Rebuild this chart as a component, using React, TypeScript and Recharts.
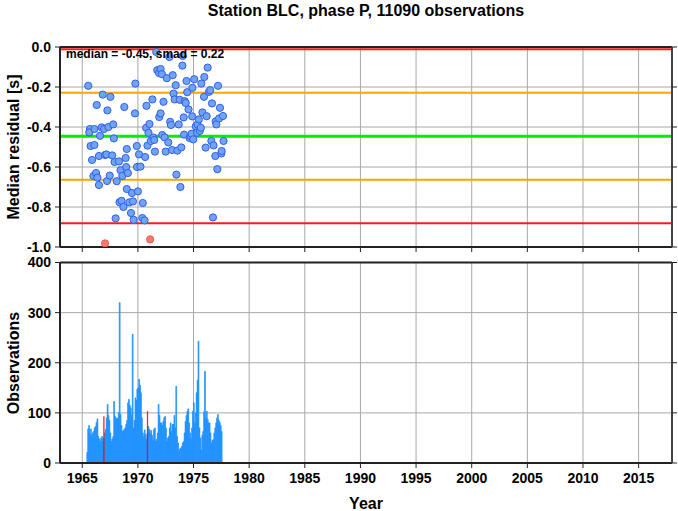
import React from 'react';
import { ComposedChart, Scatter, Bar, XAxis, YAxis, CartesianGrid, ReferenceLine } from 'recharts';

const FONT = '"Liberation Sans", Arial, Helvetica, sans-serif';

const yearDomain = [1963, 2018];
const yearTicks = [1965, 1970, 1975, 1980, 1985, 1990, 1995, 2000, 2005, 2010, 2015];
const residualTicks = [-1, -0.8, -0.6, -0.4, -0.2, 0];
const countTicks = [0, 100, 200, 300, 400];

const limitValues = [-0.0115, -0.229, -0.4465, -0.664, -0.8815];
const limitColors = ['#ff1a1a', '#ffa500', '#00ee00', '#ffa500', '#ff1a1a'];
const limitWidths = [2, 2, 3, 2, 2];

const residualYears = [
  1965.54, 1965.69, 1965.63, 1965.75, 1966.09, 1966.1, 1965.88, 1966.3, 1966.0, 1966.24,
  1966.36, 1966.5, 1966.5, 1966.6, 1966.75, 1966.84, 1966.96, 1967.05, 1967.17, 1967.26,
  1967.35, 1967.53, 1967.69, 1967.78, 1967.84, 1967.23, 1967.47, 1967.9, 1968.1, 1968.0,
  1968.3, 1968.44, 1968.35, 1968.53, 1968.6, 1968.7, 1968.78, 1968.9, 1968.95, 1969.0,
  1969.1, 1969.0, 1969.23, 1969.38, 1969.47, 1969.56, 1969.62, 1969.74, 1969.77, 1969.9,
  1969.92, 1970.0, 1970.1, 1970.23, 1970.4, 1970.44, 1970.6, 1970.65, 1970.77, 1970.74,
  1970.86, 1970.95, 1971.04, 1971.16, 1971.3, 1971.4, 1971.47, 1971.53, 1971.65, 1971.74,
  1971.9, 1972.04, 1972.16, 1971.92, 1972.04, 1972.19, 1972.3, 1972.4, 1972.5, 1972.6,
  1972.73, 1972.82, 1972.9, 1972.97, 1973.07, 1973.13, 1973.2, 1973.3, 1973.4, 1973.46,
  1973.55, 1973.67, 1973.76, 1973.82, 1973.9, 1974.0, 1974.03, 1974.12, 1974.15, 1974.2,
  1974.3, 1974.43, 1974.37, 1974.55, 1974.64, 1974.73, 1974.82, 1974.88, 1974.9, 1974.97,
  1975.06, 1975.2, 1975.33, 1975.36, 1975.48, 1975.57, 1975.66, 1975.7, 1975.8, 1975.94,
  1975.97, 1976.09, 1976.18, 1976.27, 1976.39, 1976.5, 1976.66, 1976.6, 1976.75, 1976.8,
  1976.96, 1976.99, 1977.05, 1977.14, 1977.2, 1977.3, 1977.38, 1977.5, 1977.53, 1977.65,
  1977.7,
];
const residualValues = [
  -0.194, -0.41, -0.427, -0.495, -0.49, -0.41, -0.565, -0.29, -0.645, -0.63,
  -0.653, -0.69, -0.545, -0.444, -0.402, -0.238, -0.41, -0.54, -0.537, -0.317,
  -0.4, -0.249, -0.542, -0.387, -0.457, -0.67, -0.643, -0.575, -0.671, -0.857,
  -0.572, -0.616, -0.776, -0.769, -0.645, -0.8, -0.3, -0.555, -0.6, -0.51,
  -0.63, -0.71, -0.777, -0.83, -0.73, -0.772, -0.864, -0.332, -0.183, -0.495,
  -0.6, -0.722, -0.537, -0.598, -0.855, -0.78, -0.867, -0.55, -0.294, -0.404,
  -0.493, -0.429, -0.385, -0.47, -0.262, -0.453, -0.465, -0.523, -0.025, -0.116,
  -0.13, -0.11, -0.136, -0.35, -0.332, -0.44, -0.274, -0.452, -0.523, -0.156,
  -0.477, -0.05, -0.374, -0.39, -0.515, -0.141, -0.233, -0.262, -0.191, -0.638,
  -0.518, -0.387, -0.264, -0.7, -0.502, -0.093, -0.045, -0.352, -0.438, -0.271,
  -0.28, -0.226, -0.17, -0.312, -0.455, -0.445, -0.434, -0.347, -0.204, -0.462,
  -0.161, -0.397, -0.429, -0.387, -0.362, -0.419, -0.404, -0.183, -0.327, -0.249,
  -0.15, -0.503, -0.346, -0.103, -0.224, -0.216, -0.282, -0.47, -0.852, -0.492,
  -0.545, -0.372, -0.387, -0.611, -0.194, -0.357, -0.304, -0.532, -0.52, -0.345,
  -0.47,
];
const outlierYears = [1967.05, 1971.1];
const outlierValues = [-0.982, -0.962];

const firstMonth = 1965.45;
const monthlyCounts = [
  21, 68, 75, 57, 68, 55, 60, 63, 70, 73,
  81, 88, 53, 48, 43, 50, 53, 43, 50, 60,
  67, 90, 117, 95, 85, 60, 43, 48, 53, 123,
  93, 90, 88, 90, 100, 320, 97, 75, 63, 65,
  67, 70, 77, 85, 120, 127, 115, 110, 95, 257,
  70, 85, 130, 125, 147, 150, 167, 155, 140, 90,
  60, 53, 66, 57, 48, 60, 73, 67, 60, 65,
  55, 45, 67, 70, 43, 47, 60, 117, 95, 80,
  80, 75, 83, 90, 93, 70, 43, 50, 53, 70,
  80, 63, 77, 77, 95, 70, 153, 53, 40, 23,
  28, 30, 33, 40, 43, 60, 83, 95, 103, 108,
  80, 60, 47, 70, 103, 120, 80, 100, 140, 165,
  243, 70, 50, 26, 55, 63, 102, 183, 90, 103,
  87, 80, 80, 60, 40, 45, 47, 60, 70, 80,
  90, 97, 85, 81, 75, 63,
];
const outlierMonths = [18, 65];
const outlierCounts = [93, 103];

const residualData = residualYears.map((x, i) => ({ x, y: residualValues[i] }));
const outlierData = outlierYears.map((x, i) => ({ x, y: outlierValues[i] }));
const countData = monthlyCounts.map((n, i) => {
  const k = outlierMonths.indexOf(i);
  return { x: firstMonth + i / 12, n, red: k >= 0 ? outlierCounts[k] : null };
});

const tickStyle = { fontSize: 14, fontWeight: 'bold', fill: '#000', fontFamily: FONT };
const axisLineStyle = { stroke: '#222', strokeWidth: 2 };
const tickLineStyle = { stroke: '#222', strokeWidth: 1 };
const blank = () => '';

const BlueDot = (p: any) => (
  <circle cx={p.cx} cy={p.cy} r={3.6} fill="#72a2f2" stroke="#2e60f0" strokeWidth={1} />
);
const RedDot = (p: any) => (
  <circle cx={p.cx} cy={p.cy} r={3.6} fill="#f47a72" stroke="#ee5a50" strokeWidth={1} />
);

export default function App() {
  return (
    <div style={{ position: 'absolute', left: 0, top: 0, width: 678, height: 511, background: '#fff' }}>
      <div style={{ position: 'absolute', left: 0, top: 0 }}>
        <ComposedChart width={678} height={256} margin={{ top: 46, right: 0, bottom: 4, left: 10 }}>
          <CartesianGrid stroke="#a8a8a8" strokeWidth={1} />
          <XAxis
            type="number"
            dataKey="x"
            domain={yearDomain}
            ticks={yearTicks}
            allowDataOverflow
            height={5}
            tickSize={5}
            tickFormatter={blank}
            axisLine={axisLineStyle}
            tickLine={tickLineStyle}
          />
          <XAxis
            xAxisId="top"
            orientation="top"
            type="number"
            domain={yearDomain}
            ticks={yearTicks}
            allowDataOverflow
            height={1}
            tickSize={5}
            tickFormatter={blank}
            axisLine={axisLineStyle}
            tickLine={tickLineStyle}
          />
          <YAxis
            type="number"
            domain={[-1, 0]}
            ticks={residualTicks}
            allowDataOverflow
            width={50}
            tickSize={5}
            tickMargin={4}
            tick={tickStyle}
            tickFormatter={(v: number) => v.toFixed(1)}
            axisLine={axisLineStyle}
            tickLine={tickLineStyle}
          />
          <YAxis
            yAxisId="r"
            orientation="right"
            type="number"
            domain={[-1, 0]}
            ticks={residualTicks}
            allowDataOverflow
            width={6}
            tickSize={5}
            tickFormatter={blank}
            axisLine={{ stroke: '#444', strokeWidth: 2 }}
            tickLine={tickLineStyle}
          />
          {limitValues.map((v, i) => (
            <ReferenceLine key={i} y={v} stroke={limitColors[i]} strokeWidth={limitWidths[i]} />
          ))}
          <Scatter data={residualData} dataKey="y" shape={BlueDot} isAnimationActive={false} />
          <Scatter data={outlierData} dataKey="y" shape={RedDot} isAnimationActive={false} />
        </ComposedChart>
      </div>
      <div style={{ position: 'absolute', left: 0, top: 250 }}>
        <ComposedChart data={countData} width={678} height={261} margin={{ top: 11.5, right: 0, bottom: 18, left: 10 }}>
          <CartesianGrid stroke="#a8a8a8" strokeWidth={1} />
          <XAxis
            type="number"
            dataKey="x"
            domain={yearDomain}
            ticks={yearTicks}
            allowDataOverflow
            height={30}
            tickSize={5}
            tickMargin={5}
            tick={tickStyle}
            axisLine={axisLineStyle}
            tickLine={tickLineStyle}
          />
          <XAxis
            xAxisId="top"
            orientation="top"
            type="number"
            domain={yearDomain}
            ticks={yearTicks}
            allowDataOverflow
            height={1}
            tickSize={5}
            tickFormatter={blank}
            axisLine={axisLineStyle}
            tickLine={tickLineStyle}
          />
          <XAxis xAxisId="red" type="number" dataKey="x" domain={yearDomain} allowDataOverflow hide />
          <YAxis
            type="number"
            domain={[0, 400]}
            ticks={countTicks}
            allowDataOverflow
            width={50}
            tickSize={5}
            tickMargin={4}
            tick={tickStyle}
            axisLine={axisLineStyle}
            tickLine={tickLineStyle}
          />
          <YAxis
            yAxisId="r"
            orientation="right"
            type="number"
            domain={[0, 400]}
            ticks={countTicks}
            allowDataOverflow
            width={6}
            tickSize={5}
            tickFormatter={blank}
            axisLine={{ stroke: '#444', strokeWidth: 2 }}
            tickLine={tickLineStyle}
          />
          <Bar dataKey="n" barSize={1.4} fill="#1e90ff" stroke="#1e90ff" strokeWidth={0.7} isAnimationActive={false} />
          <Bar xAxisId="red" dataKey="red" barSize={1.2} fill="#e81010" stroke="#e81010" strokeWidth={0.3} isAnimationActive={false} />
        </ComposedChart>
      </div>
      <svg
        width={678}
        height={511}
        style={{ position: 'absolute', left: 0, top: 0, pointerEvents: 'none' }}
        fontFamily={FONT}
        fontWeight="bold"
      >
        <text x={366} y={16} textAnchor="middle" fontSize={16} fill="#000">
          Station BLC, phase P, 11090 observations
        </text>
        <text x={366} y={509} textAnchor="middle" fontSize={16} fill="#000">
          Year
        </text>
        <text transform="translate(19,147) rotate(-90)" textAnchor="middle" fontSize={16} fill="#000">
          Median residual [s]
        </text>
        <text transform="translate(19,363) rotate(-90)" textAnchor="middle" fontSize={16} fill="#000">
          Observations
        </text>
        <text x={66} y={57.5} fontSize={12} fill="#000">
          median = -0.45, smad = 0.22
        </text>
      </svg>
    </div>
  );
}
